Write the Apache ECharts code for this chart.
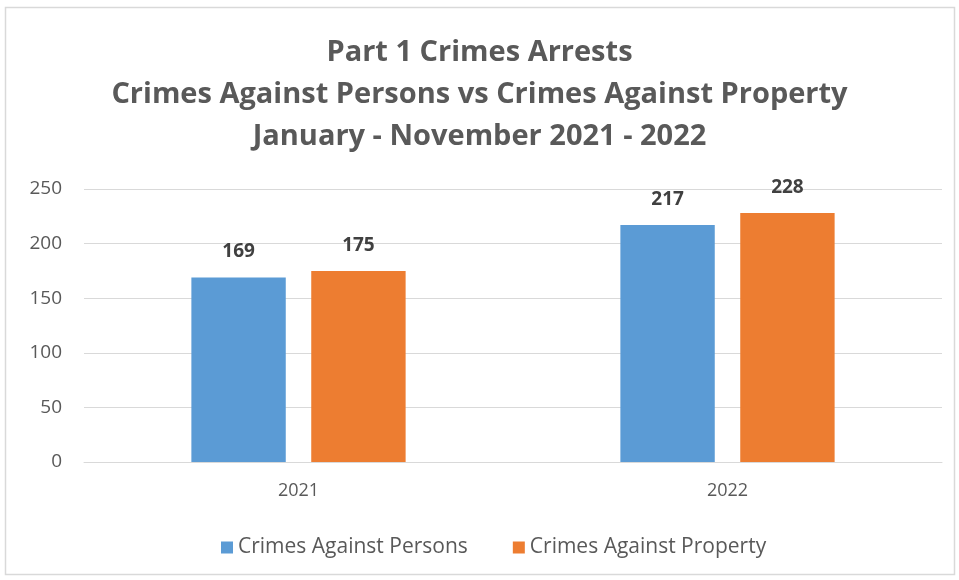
<!DOCTYPE html>
<html><head><meta charset="utf-8">
<script src="https://cdn.jsdelivr.net/npm/echarts@6/dist/echarts.min.js"></script>
<style>html,body{margin:0;padding:0;background:#fff}#c{width:959px;height:580px}</style>
</head><body><div id="c"></div>
<script>
const categories = ['2021', '2022'];
const personsValues = [169, 217];
const propertyValues = [175, 228];
const seriesNames = ['Crimes Against Persons', 'Crimes Against Property'];
const titleLines = ['Part 1 Crimes Arrests', 'Crimes Against Persons vs Crimes Against Property', 'January - November 2021 - 2022'];

const chart = echarts.init(document.getElementById('c'));
const font = 'Open Sans';
chart.setOption({
  animation: false,
  backgroundColor: '#fff',
  graphic: [{type: 'rect', shape: {x: 5.5, y: 7.5, width: 949, height: 567}, style: {fill: 'none', stroke: '#d9d9d9', lineWidth: 1.5}, silent: true}],
  title: {
    text: titleLines.join('\n'), left: 'center', top: 27,
    textStyle: {fontFamily: font, fontSize: 29, fontWeight: 'bold', color: '#595959', lineHeight: 42}
  },
  legend: {
    bottom: 17, left: 216, itemWidth: 12, itemHeight: 12, itemGap: 45,
    icon: 'rect',
    textStyle: {fontFamily: font, fontSize: 21, color: '#595959'},
    data: seriesNames
  },
  grid: {left: 84, right: 17, top: 189, bottom: 118},
  xAxis: {
    type: 'category', data: categories,
    axisLine: {lineStyle: {color: '#d9d9d9'}}, axisTick: {show: false},
    axisLabel: {fontFamily: font, fontSize: 18, color: '#595959', margin: 20}
  },
  yAxis: {
    type: 'value', min: 0, max: 250, interval: 50,
    axisLine: {show: false}, axisTick: {show: false},
    splitLine: {lineStyle: {color: '#d9d9d9'}},
    axisLabel: {fontFamily: font, fontSize: 19, color: '#595959', margin: 22}
  },
  series: [
    {name: seriesNames[0], type: 'bar', data: personsValues, barWidth: '22%', barGap: '27%',
     itemStyle: {color: '#5b9bd5'},
     label: {show: true, position: 'top', distance: 16, fontFamily: font, fontSize: 19, fontWeight: 'bold', color: '#404040'}},
    {name: seriesNames[1], type: 'bar', data: propertyValues, barWidth: '22%',
     itemStyle: {color: '#ed7d31'},
     label: {show: true, position: 'top', distance: 16, fontFamily: font, fontSize: 19, fontWeight: 'bold', color: '#404040'}}
  ]
});
</script></body></html>
